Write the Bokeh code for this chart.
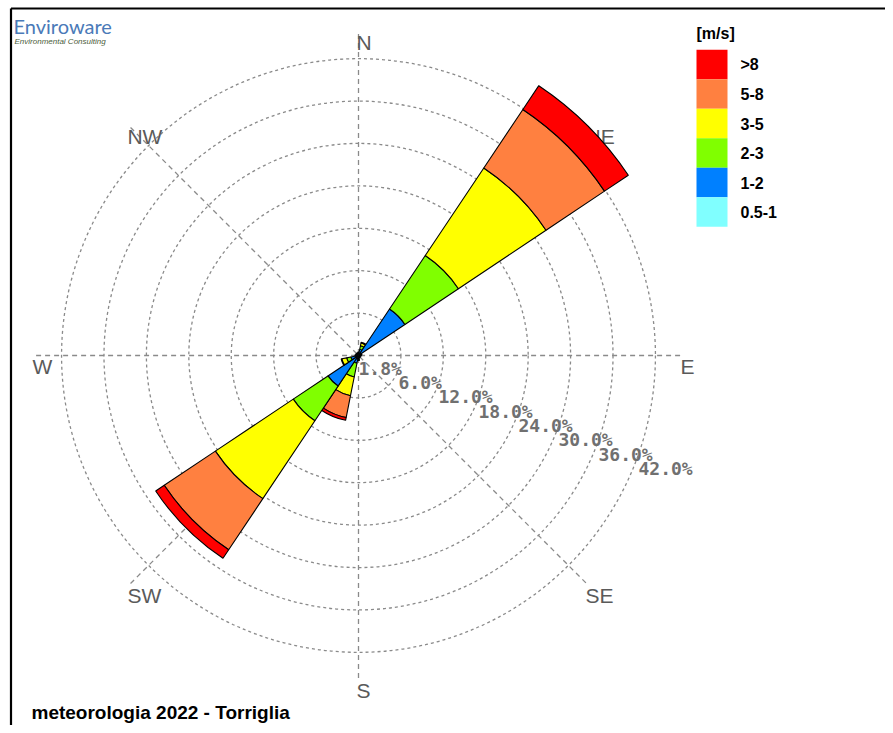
import math
from bokeh.plotting import figure
from bokeh.models import Range1d, ColumnDataSource
from bokeh.core.properties import value
from bokeh.embed import file_html
from bokeh.resources import INLINE

# ---------------- data ----------------
directions = ["N", "NNE", "NE", "ENE", "E", "ESE", "SE", "SSE",
              "S", "SSW", "SW", "WSW", "W", "WNW", "NW", "NNW"]
speed_classes = ["0.5-1", "1-2", "2-3", "3-5", "5-8", ">8"]
class_colors = ["#80FFFF", "#0080FF", "#80FF00", "#FFFF00", "#FF8040", "#FF0000"]

# frequency (%) per direction for each speed class
freq_05_1 = [0.2, 0.3, 0.3, 0.2, 0.2, 0.1, 0.1, 0.2, 0.2, 0.2, 0.3, 0.2, 0.2, 0.2, 0.2, 0.2]
freq_1_2 = [0.3, 0.6, 7.6, 0.3, 0.2, 0.2, 0.2, 0.2, 0.4, 0.9, 4.9, 0.9, 0.3, 0.2, 0.2, 0.2]
freq_2_3 = [0.0, 0.5, 9.1, 0.0, 0.0, 0.0, 0.0, 0.0, 0.1, 2.0, 5.9, 0.6, 0.0, 0.0, 0.0, 0.0]
freq_3_5 = [0.0, 0.4, 14.9, 0.0, 0.0, 0.0, 0.0, 0.0, 0.0, 2.7, 13.25, 0.7, 0.0, 0.0, 0.0, 0.0]
freq_5_8 = [0.0, 0.1, 9.95, 0.0, 0.0, 0.0, 0.0, 0.0, 0.0, 3.15, 8.7, 0.1, 0.0, 0.0, 0.0, 0.0]
freq_gt8 = [0.0, 0.0, 4.05, 0.0, 0.0, 0.0, 0.0, 0.0, 0.0, 0.4, 1.45, 0.0, 0.0, 0.0, 0.0, 0.0]
class_freqs = [freq_05_1, freq_1_2, freq_2_3, freq_3_5, freq_5_8, freq_gt8]

ring_values = [6, 12, 18, 24, 30, 36, 42]
calm_pct = 1.8
compass_labels = ["N", "NE", "E", "SE", "S", "SW", "W", "NW"]
title_text = "meteorologia 2022 - Torriglia"
legend_title = "[m/s]"

# ---------------- layout ----------------
W, H = 885, 725
S = 7.07                       # pixels per percent
cxf, cyf = 358, 355            # rose centre in figure pixels


def px(xp, yp):
    """figure pixel -> data coords"""
    return ((xp - cxf) / S, (cyf - yp) / S)


p = figure(width=W, height=H, output_backend="svg", toolbar_location=None,
           x_range=Range1d(-cxf / S, (W - cxf) / S),
           y_range=Range1d(-(H - cyf) / S, cyf / S),
           min_border=0, outline_line_color=None)
p.axis.visible = False
p.grid.visible = False
p.background_fill_color = "white"

grid_col = "#8a8a8a"
# rings
for r in ring_values:
    p.circle(x=0, y=0, radius=r, fill_color=None, line_color=grid_col,
             line_width=1.3, line_dash="3 3")
# spokes
R_spoke = 45.6
sx0, sy0, sx1, sy1 = [], [], [], []
for k in range(4):
    a = math.radians(90 - k * 45)
    sx0.append(-R_spoke * math.cos(a)); sy0.append(-R_spoke * math.sin(a))
    sx1.append(R_spoke * math.cos(a)); sy1.append(R_spoke * math.sin(a))
p.segment(x0=sx0, y0=sy0, x1=sx1, y1=sy1, line_color=grid_col,
          line_width=1.3, line_dash="5 4")

# compass labels (under the bars, as in the reference)
R_lab = 324 / S
cxl = [R_lab * math.sin(math.radians(k * 45)) for k in range(8)]
cyl = [R_lab * math.cos(math.radians(k * 45)) for k in range(8)]
p.text(x=cxl, y=cyl, text=compass_labels, text_font=value("Liberation Sans"),
       text_font_size="21px", text_color="#5a5a5a", text_align="left",
       text_baseline="top", x_offset=-2, y_offset=-1)

# wind rose sectors
inner, outer, st, en, col = [], [], [], [], []
for i, d in enumerate(directions):
    b = i * 22.5
    cum = 0.0
    for c, f in enumerate(class_freqs):
        v = f[i]
        if v <= 0:
            continue
        inner.append(cum)
        cum += v
        outer.append(cum)
        st.append(math.radians(90 - b - 11.25))
        en.append(math.radians(90 - b + 11.25))
        col.append(class_colors[c])
src = ColumnDataSource(dict(inner=inner, outer=outer, start=st, end=en, color=col))
p.annular_wedge(x=0, y=0, inner_radius="inner", outer_radius="outer",
                start_angle="start", end_angle="end", fill_color="color",
                line_color="black", line_width=1.1, source=src)

# ring labels
lab_r = [0] + ring_values
lab_t = ["%.1f%%" % calm_pct] + ["%.1f%%" % v for v in ring_values]
lx = [r * (40 / 6) / S for r in lab_r]
ly = [-r * (14.3 / 6) / S for r in lab_r]
p.text(x=lx, y=ly, text=lab_t, text_font=value("DejaVu Sans Mono"),
       text_font_style="bold", text_font_size="18px", text_color="#707070",
       text_align="left", text_baseline="middle", y_offset=12.7)

# legend
box_h = 29.5
for j in range(6):
    c = 5 - j
    yc = 49.3 + box_h * (j + 0.5)
    bx, by = px(711.5, yc)
    p.rect(x=bx, y=by, width=31 / S, height=box_h / S, fill_color=class_colors[c],
           line_color=None)
    tx, ty = px(740, yc)
    p.text(x=[tx], y=[ty], text=[speed_classes[c]], text_font=value("Liberation Sans"),
           text_font_style="bold", text_font_size="16px", text_color="black",
           text_align="left", text_baseline="middle")
tx, ty = px(696, 33)
p.text(x=[tx], y=[ty], text=[legend_title], text_font=value("Liberation Sans"),
       text_font_style="bold", text_font_size="16px", text_color="black",
       text_align="left", text_baseline="middle")

# title
tx, ty = px(31, 712)
p.text(x=[tx], y=[ty], text=[title_text], text_font=value("Liberation Sans"),
       text_font_style="bold", text_font_size="19px", text_color="black",
       text_align="left", text_baseline="middle")

# logo
tx, ty = px(13, 25.5)
p.text(x=[tx], y=[ty], text=["Enviroware"], text_font=value("Lato"),
       text_font_size="20px", text_color="#4a7ab8", text_align="left",
       text_baseline="middle")
tx, ty = px(14, 40.5)
p.text(x=[tx], y=[ty], text=["Environmental Consulting"], text_font=value("Liberation Sans"),
       text_font_style="italic", text_font_size="8px", text_color="#4b5d3a",
       text_align="left", text_baseline="middle")

# frame (top and left edges)
fx0, fy0 = px(10.5, 8)
fx1, fy1 = px(W, 8)
fx2, fy2 = px(10.5, H)
p.segment(x0=[fx0, fx0], y0=[fy0, fy0], x1=[fx1, fx2], y1=[fy1, fy2],
          line_color="black", line_width=2.2)

open("out.html", "w").write(file_html(p, INLINE))
